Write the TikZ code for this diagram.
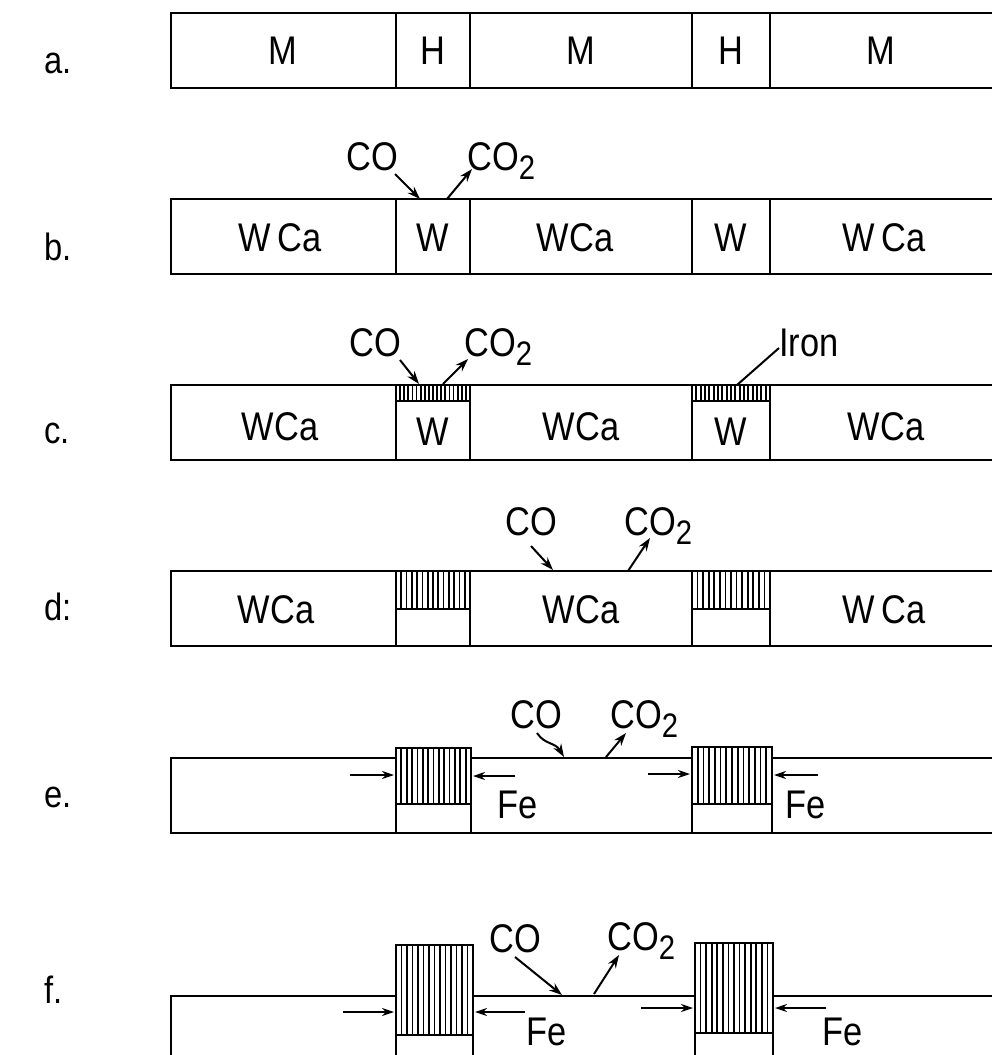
\documentclass[tikz,border=0pt]{standalone}
\usepackage{fontspec}
\setmainfont{Liberation Sans}
\newfontfamily\lettering{Liberation Sans}[FakeStretch=0.86]
\usetikzlibrary{arrows.meta}
\newcommand\subtwo{\raisebox{-9pt}{\fontsize{34}{34}\selectfont 2}}
\begin{document}
\begin{tikzpicture}[x=1pt,y=-1pt,
  box/.style={line width=2.5pt},
  txt/.style={font=\lettering\fontsize{40}{40}\selectfont, inner sep=0pt, anchor=base},
  gastxt/.style={font=\lettering\fontsize{40}{40}\selectfont, inner sep=0pt},
  rowlbl/.style={font=\lettering\fontsize{38}{38}\selectfont, inner sep=0pt, anchor=base west},
  gas/.style={-{Stealth[length=13pt,width=9pt]}, line width=2pt},
  fearrow/.style={-{Stealth[length=12pt,width=8pt]}, line width=2pt},
  hatchline/.style={line width=1.8pt},
]
\useasboundingbox (0,0) rectangle (992,1055);
\clip (0,0) rectangle (992,1055);
% hatched cell: x1,y1,x2,y2,count
\newcommand\hatchcell[5]{%
  \filldraw[box,fill=white] (#1,#2) rectangle (#3,#4);
  \foreach \i in {1,...,#5}{
    \draw[hatchline] ({#1+\i*(#3-#1)/(#5+1)},#2) -- ({#1+\i*(#3-#1)/(#5+1)},#4);
  }}
\newcommand\dividers[2]{%
  \foreach \xx in {396,470,692,770}{\draw[box] (\xx,#1) -- (\xx,#2);}}

% ---------- row a ----------
\draw[box] (171,13) rectangle (1000,88);
\dividers{13}{88}
\node[rowlbl] (la) at (44,73) {a.};
\node[txt] (a1) at (283,64) {M};
\node[txt] (a2) at (433,64) {H};
\node[txt] (a3) at (581,64) {M};
\node[txt] (a4) at (731,64) {H};
\node[txt] (a5) at (881,64) {M};

% ---------- row b ----------
\draw[box] (171,199) rectangle (1000,274);
\dividers{199}{274}
\node[rowlbl] (lb) at (44,260) {b.};
\node[txt] (b1) at (280,251) {W\,Ca};
\node[txt] (b2) at (433,251) {W};
\node[txt] (b3) at (575,251) {WCa};
\node[txt] (b4) at (731,251) {W};
\node[txt] (b5) at (884,251) {W\,Ca};
\node[gastxt, anchor=base east] (cob) at (398,170) {CO};
\node[gastxt, anchor=base west] (co2b) at (467,170) {CO\subtwo};
\coordinate (cob-s) at (395,174); \coordinate (cob-e) at (420,199);
\coordinate (co2b-s) at (447,199); \coordinate (co2b-e) at (472,169);
\draw[gas] (cob-s) -- (cob-e);
\draw[gas] (co2b-s) -- (co2b-e);

% ---------- row c ----------
\draw[box] (171,385) rectangle (1000,460);
\dividers{385}{460}
\hatchcell{396}{385}{470}{401}{17}
\hatchcell{692}{385}{770}{401}{17}
\node[rowlbl] (lc) at (44,443) {c.};
\node[txt] (c1) at (280,440) {WCa};
\node[txt] (c2) at (433,445) {W};
\node[txt] (c3) at (581,440) {WCa};
\node[txt] (c4) at (731,445) {W};
\node[txt] (c5) at (886,440) {WCa};
\node[gastxt, anchor=base east] (coc) at (401,356) {CO};
\node[gastxt, anchor=base west] (co2c) at (464,356) {CO\subtwo};
\node[gastxt, anchor=base west] (iron) at (779,356) {Iron};
\coordinate (coc-s) at (400,360); \coordinate (coc-e) at (419,384);
\coordinate (co2c-s) at (443,384); \coordinate (co2c-e) at (468,359);
\coordinate (iron-e) at (737,385);
\draw[gas] (coc-s) -- (coc-e);
\draw[gas] (co2c-s) -- (co2c-e);
\draw[line width=2pt] (iron-e) -- (779,348);

% ---------- row d ----------
\draw[box] (171,571) rectangle (1000,646);
\dividers{571}{646}
\hatchcell{396}{571}{470}{609}{13}
\hatchcell{692}{571}{770}{609}{13}
\node[rowlbl] (ld) at (44,620) {d:};
\node[txt] (d1) at (276,623) {WCa};
\node[txt] (d3) at (581,623) {WCa};
\node[txt] (d5) at (884,623) {W\,Ca};
\node[gastxt, anchor=base east] (cod) at (557,535) {CO};
\node[gastxt, anchor=base west] (co2d) at (624,535) {CO\subtwo};
\coordinate (cod-s) at (531,546); \coordinate (cod-e) at (553,570);
\coordinate (co2d-s) at (628,571); \coordinate (co2d-e) at (650,538);
\draw[gas] (cod-s) -- (cod-e);
\draw[gas] (co2d-s) -- (co2d-e);

% ---------- row e ----------
\draw[box] (171,758) rectangle (1000,833);
\hatchcell{396}{748}{471}{804}{13}
\hatchcell{692}{747}{772}{804}{13}
\draw[box] (396,804) rectangle (471,833);
\draw[box] (692,804) rectangle (772,833);
\node[rowlbl] (le) at (44,807) {e.};
\node[txt, anchor=base west] (fe1) at (497,818) {Fe};
\node[txt, anchor=base west] (fe2) at (785,818) {Fe};
\node[gastxt, anchor=base east] (coe) at (562,728) {CO};
\node[gastxt, anchor=base west] (co2e) at (610,728) {CO\subtwo};
\coordinate (coe-s) at (537,733); \coordinate (coe-e) at (564,757);
\coordinate (co2e-s) at (606,757); \coordinate (co2e-e) at (626,733);
\draw[gas] (coe-s) .. controls (545,745) and (555,742) .. (coe-e);
\draw[gas] (co2e-s) -- (co2e-e);
\coordinate (e1s) at (350,775); \coordinate (e1e) at (394,775);
\coordinate (e2s) at (515,776); \coordinate (e2e) at (473,776);
\coordinate (e3s) at (648,774); \coordinate (e3e) at (690,774);
\coordinate (e4s) at (818,775); \coordinate (e4e) at (774,775);
\draw[fearrow] (e1s) -- (e1e);
\draw[fearrow] (e2s) -- (e2e);
\draw[fearrow] (e3s) -- (e3e);
\draw[fearrow] (e4s) -- (e4e);

% ---------- row f ----------
\draw[box] (171,996) rectangle (1000,1075);
\hatchcell{396}{945}{473}{1035}{13}
\hatchcell{695}{943}{773}{1033}{13}
\draw[box] (396,1035) rectangle (473,1075);
\draw[box] (695,1033) rectangle (773,1075);
\node[rowlbl] (lf) at (44,1003) {f.};
\node[txt, anchor=base west] (fe3) at (526,1045) {Fe};
\node[txt, anchor=base west] (fe4) at (822,1045) {Fe};
\node[gastxt, anchor=base east] (cof) at (541,952) {CO};
\node[gastxt, anchor=base west] (co2f) at (607,950) {CO\subtwo};
\coordinate (cof-s) at (515,957); \coordinate (cof-e) at (562,995);
\coordinate (co2f-s) at (594,994); \coordinate (co2f-e) at (619,955);
\draw[gas] (cof-s) -- (cof-e);
\draw[gas] (co2f-s) -- (co2f-e);
\coordinate (f1s) at (343,1012); \coordinate (f1e) at (394,1012);
\coordinate (f2s) at (525,1012); \coordinate (f2e) at (475,1012);
\coordinate (f3s) at (641,1008); \coordinate (f3e) at (693,1008);
\coordinate (f4s) at (826,1008); \coordinate (f4e) at (775,1008);
\draw[fearrow] (f1s) -- (f1e);
\draw[fearrow] (f2s) -- (f2e);
\draw[fearrow] (f3s) -- (f3e);
\draw[fearrow] (f4s) -- (f4e);
\end{tikzpicture}
\end{document}
